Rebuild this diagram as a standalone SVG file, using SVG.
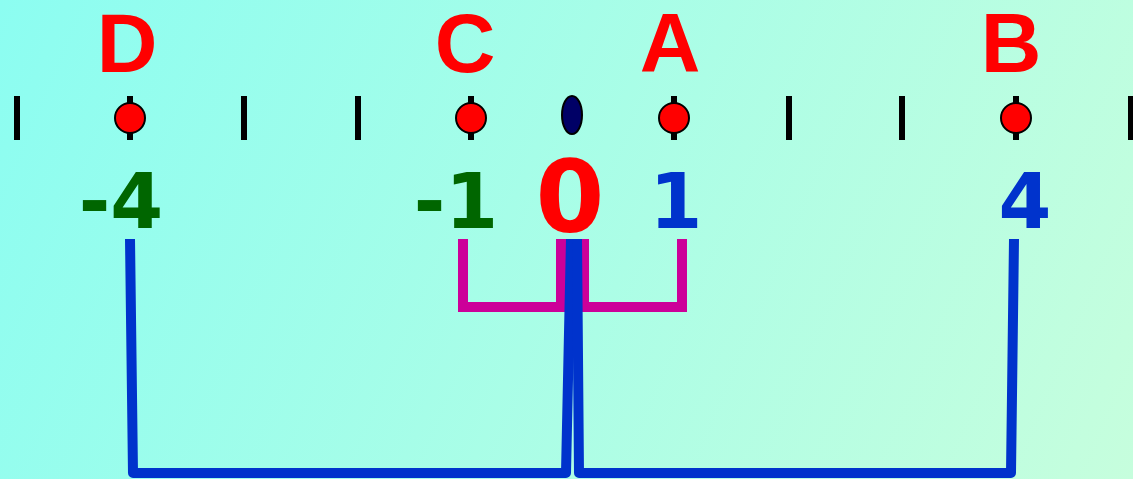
<svg xmlns="http://www.w3.org/2000/svg" width="1133" height="479" viewBox="0 0 1133 479">
<defs>
<linearGradient id="bg" x1="0" y1="0" x2="1133" y2="479" gradientUnits="userSpaceOnUse">
<stop offset="0" stop-color="#8cfdf1"/>
<stop offset="1" stop-color="#c6fedd"/>
</linearGradient>
<style>
.tick{stroke:#000;stroke-width:6}
.dot{fill:#ff0000;stroke:#000;stroke-width:2}
.lbl{font-family:"Liberation Sans",Arial,sans-serif;font-weight:bold;font-size:84px;fill:#ff0000;text-anchor:middle}
.num{font-family:"DejaVu Sans","Liberation Sans",sans-serif;font-weight:bold;font-size:76px;text-anchor:middle}
.neg{fill:#006600}
.pos{fill:#0033cc}
.blue{fill:none;stroke:#0033cc;stroke-width:10;stroke-linejoin:round}
.mag{fill:none;stroke:#cc0099;stroke-width:10}
</style>
</defs>
<rect width="1133" height="479" fill="url(#bg)"/>
<g id="ticks">
<line class="tick" x1="17" y1="96" x2="17" y2="140"/>
<line class="tick" x1="244" y1="96" x2="244" y2="140"/>
<line class="tick" x1="358" y1="96" x2="358" y2="140"/>
<line class="tick" x1="789" y1="96" x2="789" y2="140"/>
<line class="tick" x1="902" y1="96" x2="902" y2="140"/>
<line class="tick" x1="1131" y1="96" x2="1131" y2="140"/>
</g>
<g id="connectors">
<path class="mag" d="M463,239 V307 H561 V239"/>
<path class="mag" d="M584,239 V307 H682 V239"/>
<path class="blue" d="M130,239 L133,473 L566,473 L571,239"/>
<path class="blue" d="M577,239 L579,473 L1011,473 L1014,239"/>
</g>
<g id="D">
<line class="tick" x1="130" y1="96" x2="130" y2="140"/>
<circle class="dot" cx="130" cy="118" r="15"/>
<text class="lbl" x="127" y="72">D</text>
<text class="num neg" x="121" y="228">-4</text>
</g>
<g id="C">
<line class="tick" x1="471" y1="96" x2="471" y2="140"/>
<circle class="dot" cx="471" cy="118" r="15"/>
<text class="lbl" x="465" y="72">C</text>
<text class="num neg" x="456" y="228">-1</text>
</g>
<g id="O">
<ellipse cx="572" cy="115" rx="10" ry="19" fill="#000066" stroke="#000" stroke-width="2"/>
<text class="num" x="570" y="232" style="font-size:99px;fill:#ff0000">0</text>
</g>
<g id="A">
<line class="tick" x1="674" y1="96" x2="674" y2="140"/>
<circle class="dot" cx="674" cy="118" r="15"/>
<text class="lbl" x="670" y="72">A</text>
<text class="num pos" x="676" y="228">1</text>
</g>
<g id="B">
<line class="tick" x1="1016" y1="96" x2="1016" y2="140"/>
<circle class="dot" cx="1016" cy="118" r="15"/>
<text class="lbl" x="1011" y="72">B</text>
<text class="num pos" x="1025" y="228">4</text>
</g>
</svg>
